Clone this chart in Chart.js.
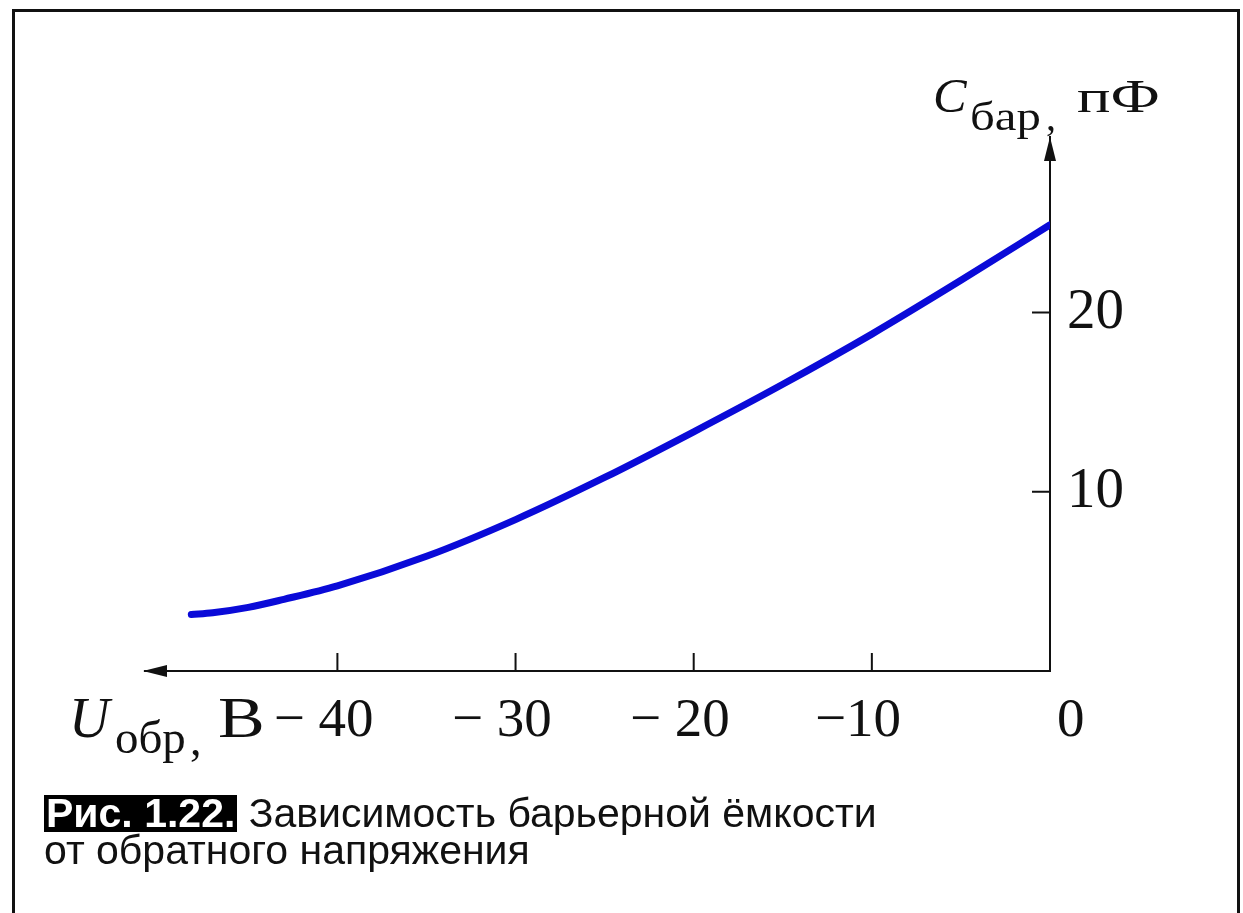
<!DOCTYPE html>
<html>
<head>
<meta charset="utf-8">
<script src="https://cdn.jsdelivr.net/npm/chart.js@4.4.1/dist/chart.umd.min.js"></script>
<style>
  html, body { margin: 0; padding: 0; background: #fff; overflow: hidden; }
  body { width: 1243px; height: 913px; position: relative; }
  #frame { position: absolute; left: 12px; top: 9px; width: 1228px; height: 960px; border: 3px solid #111; box-sizing: border-box; }
  #wrap { position: absolute; left: 0; top: 0; width: 1243px; height: 913px; }
  #caption { position: absolute; left: 44px; top: 795px; font-family: "Liberation Sans", Arial, sans-serif; font-size: 41px; line-height: 37px; color: #111; }
  #caption .num { display: inline-block; background: #000; color: #fff; font-weight: bold; line-height: 37px; height: 37px; padding: 0 2px 0 2px; }
</style>
</head>
<body>
<div id="frame"></div>
<div id="wrap"><canvas id="chartEmkost" width="1243" height="913"></canvas></div>
<div id="caption"><span class="num">Рис. 1.22.</span> Зависимость барьерной ёмкости<br>от обратного напряжения</div>
<script>
// обратное напряжение, В
const napryazhenie = [-48.2, -47, -45, -43, -40, -35, -30, -25, -20, -15, -10, -5, 0];
// барьерная ёмкость, пФ
const emkost = [3.15, 3.25, 3.55, 4.0, 4.75, 6.4, 8.45, 10.8, 13.35, 16.0, 18.8, 21.8, 24.9];
const ticksX = [-40, -30, -20, -10, 0];
const ticksY = [10, 20];
const podpisiX = ["\u2212 40\u2002", "\u2212 30\u2002", "\u2212 20\u2002", "\u221210\u2002", "\u2002 0"];

const serif = "'Liberation Serif', 'Times New Roman', serif";

// текст с растяжкой по горизонтали
function tekst(ctx, s, x, y, font, sx) {
  ctx.save();
  ctx.translate(x, y);
  ctx.scale(sx, 1);
  ctx.font = font;
  ctx.fillText(s, 0, 0);
  ctx.restore();
}

// стрелки, засечки и подписи осей
const osi = {
  id: "osi",
  afterDraw(chart) {
    const ctx = chart.ctx;
    const a = chart.chartArea;
    const sx = chart.scales.x, sy = chart.scales.y;
    ctx.save();
    ctx.strokeStyle = "#111";
    ctx.fillStyle = "#111";
    ctx.lineWidth = 2;
    // засечки внутрь графика
    ctx.beginPath();
    ticksX.forEach(v => {
      if (v === 0) return;
      const x = sx.getPixelForValue(v);
      ctx.moveTo(x, a.bottom);
      ctx.lineTo(x, a.bottom - 18);
    });
    ticksY.forEach(v => {
      const y = sy.getPixelForValue(v);
      ctx.moveTo(a.right, y);
      ctx.lineTo(a.right - 18, y);
    });
    ctx.stroke();
    // стрелки
    ctx.beginPath();
    ctx.moveTo(a.left - 2, a.bottom);
    ctx.lineTo(a.left + 22, a.bottom - 6);
    ctx.lineTo(a.left + 22, a.bottom + 6);
    ctx.closePath();
    ctx.moveTo(a.right, a.top);
    ctx.lineTo(a.right - 6, a.top + 24);
    ctx.lineTo(a.right + 6, a.top + 24);
    ctx.closePath();
    ctx.fill();
    ctx.textBaseline = "alphabetic";
    // подпись оси Y
    tekst(ctx, "C", a.right - 117, a.top - 25, "italic 48px " + serif, 1.05);
    tekst(ctx, "бар", a.right - 80, a.top - 7, "40px " + serif, 1.22);
    tekst(ctx, ",", a.right - 4, a.top - 7, "40px " + serif, 1);
    tekst(ctx, "пФ", a.right + 27, a.top - 25, "47px " + serif, 1.33);
    // подпись оси X
    tekst(ctx, "U", a.left - 76, a.bottom + 66, "italic 56px " + serif, 1);
    tekst(ctx, "обр", a.left - 30, a.bottom + 82, "46px " + serif, 1.02);
    tekst(ctx, ",", a.left + 45, a.bottom + 84, "46px " + serif, 1);
    tekst(ctx, "B", a.left + 73, a.bottom + 66, "56px " + serif, 1.25);
    ctx.restore();
  }
};

new Chart(document.getElementById("chartEmkost"), {
  type: "line",
  data: {
    datasets: [{
      data: napryazhenie.map((u, i) => ({ x: u, y: emkost[i] })),
      borderColor: "#0a0ad8",
      borderWidth: 7,
      pointRadius: 0,
      cubicInterpolationMode: "monotone",
      borderCapStyle: "round"
    }]
  },
  options: {
    responsive: false,
    animation: false,
    layout: { padding: { left: 145, top: 137, right: 0, bottom: 0 } },
    plugins: { legend: { display: false }, tooltip: { enabled: false } },
    scales: {
      x: {
        type: "linear",
        min: -50.8,
        max: 0,
        afterFit: s => { s.height = 242; },
        afterBuildTicks: s => { s.ticks = ticksX.map(v => ({ value: v })); },
        grid: { display: false, drawTicks: false },
        border: { display: true, color: "#111", width: 2 },
        ticks: {
          padding: 18,
          color: "#111",
          font: { family: serif, size: 55 },
          maxRotation: 0,
          autoSkip: false,
          callback: v => podpisiX[ticksX.indexOf(v)]
        }
      },
      y: {
        type: "linear",
        position: "right",
        min: 0,
        max: 29.8,
        afterFit: s => { s.width = 193; },
        afterBuildTicks: s => { s.ticks = ticksY.map(v => ({ value: v })); },
        grid: { display: false, drawTicks: false },
        border: { display: true, color: "#111", width: 2 },
        ticks: {
          padding: 17,
          color: "#111",
          font: { family: serif, size: 57 }
        }
      }
    }
  },
  plugins: [osi]
});
</script>
</body>
</html>
